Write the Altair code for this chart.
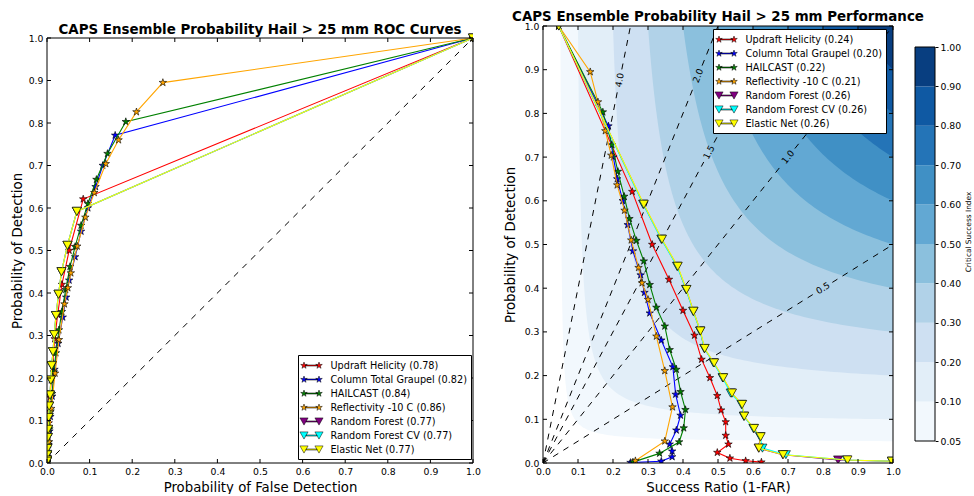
import json
import math

import altair as alt
import numpy as np
import pandas as pd

FONT = "DejaVu Sans"

# ---------------------------------------------------------------- series
NAMES = ["Updraft Helicity", "Column Total Graupel", "HAILCAST", "Reflectivity -10 C",
         "Random Forest", "Random Forest CV", "Elastic Net"]
AUC_TEXT = ["0.78", "0.82", "0.84", "0.86", "0.77", "0.77", "0.77"]
CSI_TEXT = ["0.24", "0.20", "0.22", "0.21", "0.26", "0.26", "0.26"]
SERIES_COLORS = ["#ff0000", "#0000ff", "#008000", "#ffa500", "#800080", "#00ffff", "#ffff00"]
SERIES_MARKERS = ["star", "star", "star", "star", "tri", "tri", "tri"]

# Updraft helicity
UH_POD = [1.0, 0.621, 0.500, 0.420, 0.349, 0.292, 0.237, 0.195, 0.154, 0.121, 0.094,
          0.063, 0.043, 0.024, 0.011, 0.005, 0.002]
UH_POFD = [1.0, 0.085, 0.052, 0.035, 0.025, 0.018, 0.0135, 0.010, 0.0073, 0.0055, 0.0040,
           0.0027, 0.0018, 0.0011, 0.0005, 0.0002, 0.0001]
UH_SR = [0.045, 0.255, 0.312, 0.360, 0.400, 0.433, 0.453, 0.477, 0.498, 0.509, 0.522,
         0.522, 0.530, 0.498, 0.534, 0.579, 0.624]

# Column total graupel
CTG_POD = [1.0, 0.771, 0.700, 0.650, 0.600, 0.545, 0.485, 0.430, 0.390, 0.343, 0.281,
           0.220, 0.157, 0.109, 0.075, 0.043, 0.027, 0.014, 0.004, 0.001]
CTG_POFD = [1.0, 0.160, 0.131, 0.114, 0.096, 0.080, 0.066, 0.052, 0.045, 0.037, 0.026,
            0.0175, 0.0121, 0.0079, 0.0057, 0.0036, 0.0022, 0.0011, 0.0004, 0.0001]
CTG_SR = [0.045, 0.187, 0.201, 0.212, 0.228, 0.242, 0.257, 0.279, 0.290, 0.305, 0.338,
          0.371, 0.379, 0.393, 0.381, 0.362, 0.369, 0.369, 0.338, 0.250]

# HAILCAST
HC_POD = [1.0, 0.803, 0.728, 0.667, 0.610, 0.559, 0.509, 0.462, 0.408, 0.356, 0.313,
          0.259, 0.214, 0.163, 0.122, 0.080, 0.048, 0.022, 0.002]
HC_POFD = [1.0, 0.185, 0.142, 0.116, 0.096, 0.080, 0.066, 0.054, 0.044, 0.035, 0.028,
           0.021, 0.016, 0.012, 0.0084, 0.0056, 0.0035, 0.0021, 0.0003]
HC_SR = [0.045, 0.171, 0.197, 0.214, 0.232, 0.247, 0.267, 0.288, 0.305, 0.324, 0.348,
         0.362, 0.381, 0.393, 0.407, 0.402, 0.389, 0.333, 0.257]

# Reflectivity at -10 C
REF_POD = [1.0, 0.895, 0.826, 0.760, 0.704, 0.636, 0.578, 0.510, 0.447, 0.412, 0.374,
           0.290, 0.211, 0.128, 0.050, 0.005]
REF_POFD = [1.0, 0.272, 0.210, 0.168, 0.138, 0.111, 0.090, 0.071, 0.056, 0.049, 0.041,
            0.028, 0.019, 0.010, 0.0044, 0.0007]
REF_SR = [0.045, 0.135, 0.157, 0.178, 0.195, 0.212, 0.233, 0.252, 0.273, 0.283, 0.300,
          0.324, 0.348, 0.370, 0.348, 0.264]

# Random forest
RF_POD = [1.0, 0.592, 0.512, 0.450, 0.397, 0.347, 0.302, 0.262, 0.229, 0.195, 0.160,
          0.134, 0.107, 0.079, 0.060, 0.034, 0.019, 0.007, 0.004]
RF_POFD = [1.0, 0.070, 0.048, 0.034, 0.027, 0.021, 0.017, 0.014, 0.011, 0.009, 0.007,
           0.005, 0.0037, 0.0025, 0.0018, 0.0010, 0.0004, 0.0001, 0.0]
RF_SR = [0.045, 0.287, 0.339, 0.384, 0.409, 0.430, 0.449, 0.461, 0.488, 0.514, 0.539,
         0.568, 0.574, 0.602, 0.621, 0.616, 0.685, 0.843, 0.997]

# Random forest, cross-validated
RFCV_POD = [1.0, 0.592, 0.512, 0.450, 0.397, 0.347, 0.302, 0.262, 0.229, 0.195, 0.160,
            0.134, 0.107, 0.079, 0.060, 0.034, 0.019, 0.007, 0.004]
RFCV_POFD = [1.0, 0.070, 0.048, 0.034, 0.027, 0.021, 0.017, 0.014, 0.011, 0.009, 0.007,
             0.005, 0.0037, 0.0025, 0.0018, 0.0010, 0.0004, 0.0001, 0.0]
RFCV_SR = [0.045, 0.286, 0.338, 0.383, 0.409, 0.429, 0.449, 0.461, 0.487, 0.513, 0.536,
           0.567, 0.574, 0.601, 0.620, 0.627, 0.694, 0.868, 0.997]

# Elastic net
EN_POD = [1.0, 0.592, 0.512, 0.450, 0.397, 0.347, 0.302, 0.262, 0.229, 0.195, 0.160,
          0.134, 0.107, 0.079, 0.060, 0.034, 0.019, 0.007, 0.004]
EN_POFD = [1.0, 0.070, 0.048, 0.034, 0.027, 0.021, 0.017, 0.014, 0.011, 0.009, 0.007,
           0.005, 0.0037, 0.0025, 0.0018, 0.0010, 0.0004, 0.0001, 0.0]
EN_SR = [0.045, 0.288, 0.340, 0.385, 0.410, 0.430, 0.450, 0.462, 0.489, 0.515, 0.540,
         0.569, 0.575, 0.603, 0.622, 0.617, 0.686, 0.870, 0.997]

POD_ALL = [UH_POD, CTG_POD, HC_POD, REF_POD, RF_POD, RFCV_POD, EN_POD]
POFD_ALL = [UH_POFD, CTG_POFD, HC_POFD, REF_POFD, RF_POFD, RFCV_POFD, EN_POFD]
SR_ALL = [UH_SR, CTG_SR, HC_SR, REF_SR, RF_SR, RFCV_SR, EN_SR]

# ---------------------------------------------------------------- background
TICKS = [0.0, 0.1, 0.2, 0.3, 0.4, 0.5, 0.6, 0.7, 0.8, 0.9, 1.0]
CSI_LEVELS = [0.05, 0.1, 0.2, 0.3, 0.4, 0.5, 0.6, 0.7, 0.8, 0.9, 1.0]
CBAR_LABELS = ["0.05", "0.10", "0.20", "0.30", "0.40", "0.50", "0.60", "0.70", "0.80", "0.90", "1.00"]
CSI_COLORS = ["#f2f8fd", "#e2eef8", "#cee0f2", "#b1d2e8", "#8bc0dd",
              "#62a8d3", "#4090c5", "#2474b7", "#0f59a3", "#083e80"]
BIAS_LEVELS = [0.5, 1.0, 1.5, 2.0, 4.0]
BIAS_LABEL_SR = [0.80, 0.70, 0.474, 0.443, 0.219]

TITLE_ROC = "CAPS Ensemble Probability Hail > 25 mm ROC Curves"
TITLE_PERF = "CAPS Ensemble Probability Hail > 25 mm Performance"

# ---------------------------------------------------------------- layout (px)
ROC_W, PERF_W, CBAR_W, PANEL_H = 426, 350, 20, 437
ROC_TOP = 12            # the ROC frame starts a little lower than the performance frame
CBAR_TOP, CBAR_BOTTOM = 21, 415


# ---------------------------------------------------------------- marker paths
def star_path(cx, cy, r_out):
    pts = []
    for k in range(10):
        a = math.radians(-90 + 36 * k)
        r = r_out if k % 2 == 0 else r_out * 0.382
        pts.append((cx + r * math.cos(a), cy + r * math.sin(a)))
    return "M" + "L".join(f"{x:.3f},{y:.3f}" for x, y in pts) + "Z"


def tri_path(cx, cy, hw, hh):
    return (f"M{cx - hw:.3f},{cy - hh:.3f}L{cx + hw:.3f},{cy - hh:.3f}"
            f"L{cx:.3f},{cy + hh:.3f}Z")


def bar_path(x0, x1, hh):
    return f"M{x0:.3f},{-hh:.3f}L{x1:.3f},{-hh:.3f}L{x1:.3f},{hh:.3f}L{x0:.3f},{hh:.3f}Z"


STAR = star_path(0, 0, 1.0)
TRI = tri_path(0, 0, 1.0, 0.9)
LEG_STAR = star_path(-1.25, 0, 0.58) + star_path(1.25, 0, 0.58) + bar_path(-1.0, 1.0, 0.09)
LEG_TRI = tri_path(-1.25, 0, 0.68, 0.6) + tri_path(1.25, 0, 0.68, 0.6) + bar_path(-0.9, 0.9, 0.09)
MARKER_SIZE = {"star": 62, "tri": 81}


def make_legend(x, y, labels):
    tri_labels = [lab for lab, m in zip(labels, SERIES_MARKERS) if m == "tri"]
    expr = (f"indexof({json.dumps(tri_labels)}, datum.value) >= 0 ? "
            f"'{LEG_TRI}' : '{LEG_STAR}'")
    return alt.Legend(
        title=None, orient="none", legendX=x, legendY=y,
        fillColor="white", strokeColor="black", padding=4, rowPadding=2,
        symbolSize=144, symbolOffset=3, labelOffset=12.5,
        symbolType=alt.ExprRef(expr=expr),
        symbolStrokeColor="black", symbolStrokeWidth=0.5,
        labelFont=FONT, labelFontSize=9.7, labelColor="black", labelLimit=400,
    )


def series_frame(xs_all, suffixes):
    rows = []
    for i, name in enumerate(NAMES):
        for k, (xv, yv) in enumerate(zip(xs_all[i], POD_ALL[i])):
            rows.append({"series": i, "label": f"{name} ({suffixes[i]})", "x": xv, "y": yv,
                         "k": k, "shape": SERIES_MARKERS[i]})
    return pd.DataFrame(rows)


def series_layers(df, X, Y, legend):
    labels = list(df.groupby("series")["label"].first())
    color_scale = alt.Scale(domain=labels, range=SERIES_COLORS)
    shape_scale = alt.Scale(domain=["star", "tri"], range=[STAR, TRI])
    layers = []
    for i in range(len(NAMES)):
        sub = df[df["series"] == i]
        layers.append(
            alt.Chart(sub).mark_line(color=SERIES_COLORS[i], strokeWidth=1.1, clip=True).encode(
                x=X("x"), y=Y("y"), order="k:Q")
        )
        layers.append(
            alt.Chart(sub).mark_point(filled=True, opacity=1, stroke="black", strokeWidth=0.6,
                                      size=MARKER_SIZE[SERIES_MARKERS[i]], clip=True).encode(
                x=X("x"), y=Y("y"),
                color=alt.Color("label:N", scale=color_scale, legend=legend),
                shape=alt.Shape("shape:N", scale=shape_scale, legend=None),
            )
        )
    return layers


def frame_layers(X, Y, w, top, bottom):
    edges = pd.DataFrame({"x": [0.0, 0.0, 0.0, 1.0], "y": [0.0, 1.0, 0.0, 0.0],
                          "x2": [1.0, 1.0, 0.0, 1.0], "y2": [0.0, 1.0, 1.0, 1.0]})
    ticks = pd.DataFrame({"t": TICKS})
    frame = alt.Chart(edges).mark_rule(color="black", strokeWidth=1).encode(
        x=X("x"), y=Y("y"), x2="x2:Q", y2="y2:Q")
    rule = alt.Chart(ticks).mark_rule(color="black", strokeWidth=1)
    return [
        frame,
        rule.encode(x=X("t"), y=alt.value(bottom), y2=alt.value(bottom - 4)),
        rule.encode(x=X("t"), y=alt.value(top), y2=alt.value(top + 4)),
        rule.encode(y=Y("t"), x=alt.value(0), x2=alt.value(4)),
        rule.encode(y=Y("t"), x=alt.value(w), x2=alt.value(w - 4)),
    ]


def title_layer(text, x, y):
    return alt.Chart(pd.DataFrame({"t": [text]})).mark_text(
        font=FONT, fontSize=13.4, fontWeight="bold", color="black", baseline="middle"
    ).encode(text="t:N", x=alt.value(x), y=alt.value(y))


def encoders(x_title, y_title, y_title_x, top, bottom):
    xs = alt.Scale(domain=[0, 1], nice=False, zero=False)
    ys = alt.Scale(domain=[0, 1], range=[bottom, top], nice=False, zero=False)
    xa = alt.Axis(values=TICKS, format=".1f", ticks=False, tickSize=0, domain=False,
                  labelPadding=4, labelFlush=False, labelOverlap=False,
                  title=x_title, titleY=24, titleBaseline="middle")
    ya = alt.Axis(values=TICKS, format=".1f", ticks=False, tickSize=0, domain=False,
                  labelPadding=4, labelFlush=False, labelOverlap=False,
                  title=y_title, titleX=y_title_x, titleY=(top + bottom) / 2, titleAngle=270,
                  titleBaseline="middle", titleAlign="center")

    def X(field):
        return alt.X(f"{field}:Q", scale=xs, axis=xa)

    def Y(field):
        return alt.Y(f"{field}:Q", scale=ys, axis=ya)

    return X, Y


# ---------------------------------------------------------------- ROC panel
Xr, Yr = encoders("Probability of False Detection", "Probability of Detection", -30,
                  ROC_TOP, PANEL_H)
roc_df = series_frame(POFD_ALL, AUC_TEXT)
roc_labels = list(roc_df.groupby("series")["label"].first())
diag = alt.Chart(pd.DataFrame({"x": [0.0, 1.0], "y": [0.0, 1.0]})).mark_line(
    color="black", strokeWidth=1, strokeDash=[6, 6]).encode(x=Xr("x"), y=Yr("y"))

roc = alt.layer(
    diag,
    *series_layers(roc_df, Xr, Yr, make_legend(251, 329, roc_labels)),
    *frame_layers(Xr, Yr, ROC_W, ROC_TOP, PANEL_H),
    title_layer(TITLE_ROC, ROC_W / 2, ROC_TOP - 8),
).properties(width=ROC_W, height=PANEL_H)

# ---------------------------------------------------------------- performance panel
Xp, Yp = encoders("Success Ratio (1-FAR)", "Probability of Detection", -33, 0, PANEL_H)

# filled CSI bands: region CSI >= level, bounded by the CSI isoline
csi_layers = []
u = np.linspace(0.0, 1.0, 90) ** 2
for lvl, col in zip(CSI_LEVELS[:-1], CSI_COLORS):
    sr = lvl + (1.0 - lvl) * u
    pod = 1.0 / (1.0 / lvl + 1.0 - 1.0 / sr)
    band = pd.DataFrame({"x": sr, "y": np.clip(pod, 0, 1), "top": 1.0})
    csi_layers.append(
        alt.Chart(band).mark_area(color=col, opacity=1, clip=True).encode(
            x=Xp("x"), y=Yp("y"), y2="top:Q")
    )

# frequency-bias lines, broken where their labels sit
bias_rows, label_rows = [], []
for b, lab_sr in zip(BIAS_LEVELS, BIAS_LABEL_SR):
    x_end, y_end = min(1.0, 1.0 / b), min(1.0, b)
    length_px = math.hypot(x_end * PERF_W, y_end * PANEL_H)
    t_lab = lab_sr / x_end
    gap = 11.0 / length_px
    for seg, (t0, t1) in enumerate([(0.0, t_lab - gap), (t_lab + gap, 1.0)]):
        for k, t in enumerate((t0, t1)):
            bias_rows.append({"seg": f"{b}-{seg}", "k": k, "x": t * x_end, "y": t * y_end})
    label_rows.append({"x": lab_sr, "y": lab_sr * b, "text": f"{b:.1f}",
                       "ang": 360 - math.degrees(math.atan(b * PANEL_H / PERF_W))})

bias_lines = alt.Chart(pd.DataFrame(bias_rows)).mark_line(
    color="black", strokeWidth=1, strokeDash=[6, 6], clip=True).encode(
    x=Xp("x"), y=Yp("y"), detail="seg:N", order="k:Q")
bias_text = alt.Chart(pd.DataFrame(label_rows)).mark_text(
    font=FONT, fontSize=9, color="black", align="center", baseline="middle").encode(
    x=Xp("x"), y=Yp("y"), text="text:N", angle=alt.Angle("ang:Q", scale=None))

perf_df = series_frame(SR_ALL, CSI_TEXT)
perf_labels = list(perf_df.groupby("series")["label"].first())
perf = alt.layer(
    *csi_layers,
    bias_lines,
    bias_text,
    *series_layers(perf_df, Xp, Yp, make_legend(170, 3, perf_labels)),
    *frame_layers(Xp, Yp, PERF_W, 0, PANEL_H),
    title_layer(TITLE_PERF, PERF_W / 2, -9),
).properties(width=PERF_W, height=PANEL_H)

# ---------------------------------------------------------------- colour bar
cb_df = pd.DataFrame({"lo": list(range(10)), "hi": list(range(1, 11)), "color": CSI_COLORS})
cb_scale = alt.Scale(domain=[0, 10], range=[CBAR_BOTTOM, CBAR_TOP], nice=False, zero=False)
cb_axis = alt.Axis(orient="right", values=list(range(11)),
                   labelExpr=f"{json.dumps(CBAR_LABELS)}[datum.value]",
                   tickSize=3, tickColor="black", domain=False, labelPadding=2,
                   labelFontSize=9.3, labelOverlap=False, labelFlush=False,
                   title="Critical Success Index", titleFontSize=7.4, titleAngle=270,
                   titleX=33, titleY=205.5,
                   titleBaseline="middle", titleAlign="center")
cb_rects = alt.Chart(cb_df).mark_rect().encode(
    y=alt.Y("lo:Q", scale=cb_scale, axis=cb_axis), y2="hi:Q",
    x=alt.value(0), x2=alt.value(CBAR_W),
    color=alt.Color("color:N", scale=None))
cb_border = alt.Chart(pd.DataFrame({"lo": [0], "hi": [10]})).mark_rect(
    filled=False, color="black", strokeWidth=1).encode(
    y=alt.Y("lo:Q", scale=cb_scale, axis=cb_axis), y2="hi:Q",
    x=alt.value(0), x2=alt.value(CBAR_W))
cbar = alt.layer(cb_rects, cb_border).properties(width=CBAR_W, height=PANEL_H)

# ---------------------------------------------------------------- assemble
right = alt.hconcat(perf, cbar, spacing=22, bounds="flush").resolve_scale(
    color="independent", shape="independent", x="independent", y="independent")
chart = (
    alt.hconcat(roc, right, spacing=70, bounds="flush")
    .resolve_scale(color="independent", shape="independent", x="independent", y="independent")
    .properties(padding={"left": 10, "top": 10, "right": 0, "bottom": 0})
    .configure_view(stroke=None)
    .configure_axis(labelFont=FONT, titleFont=FONT, labelFontSize=9.3, titleFontSize=13.3,
                    labelColor="black", titleColor="black", titleFontWeight="normal", grid=False)
)

chart.save("out.html", embed_options={"renderer": "svg", "actions": False})
